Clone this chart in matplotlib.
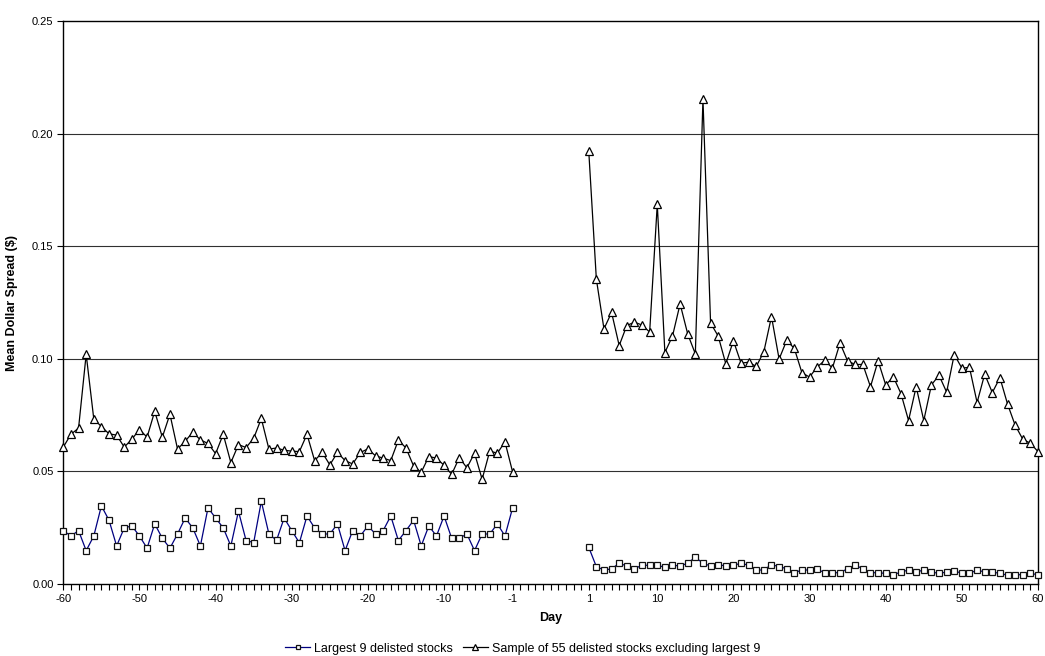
import numpy as np
import matplotlib
matplotlib.use("Agg")
import matplotlib.pyplot as plt
from matplotlib.lines import Line2D

plt.rcParams['font.family'] = ['Liberation Sans', 'DejaVu Sans']

# event days (no day 0)
days_pre = list(range(-60, 0))
days_post = list(range(1, 61))

# largest 9 delisted stocks
large_pre = [0.0237, 0.0213, 0.0237, 0.0148, 0.0213, 0.0347, 0.0283, 0.0169, 0.0249, 0.0258,
             0.0213, 0.0159, 0.0267, 0.0203, 0.0159, 0.0222, 0.0293, 0.0249, 0.0169, 0.0338,
             0.0293, 0.0249, 0.0169, 0.0323, 0.0193, 0.0184, 0.0367, 0.0222, 0.0194, 0.0293,
             0.0237, 0.0183, 0.0302, 0.0249, 0.0222, 0.0222, 0.0267, 0.0148, 0.0237, 0.0213,
             0.0258, 0.0222, 0.0237, 0.0302, 0.0193, 0.0237, 0.0283, 0.0169, 0.0258, 0.0213,
             0.0302, 0.0203, 0.0203, 0.0222, 0.0148, 0.0222, 0.0222, 0.0267, 0.0213, 0.0338]
large_post = [0.0163, 0.0077, 0.0062, 0.0067, 0.0092, 0.0080, 0.0068, 0.0083, 0.0083, 0.0083,
              0.0074, 0.0083, 0.0080, 0.0092, 0.0119, 0.0092, 0.0080, 0.0086, 0.0080, 0.0083,
              0.0092, 0.0083, 0.0062, 0.0062, 0.0086, 0.0077, 0.0068, 0.0050, 0.0062, 0.0062,
              0.0065, 0.0050, 0.0050, 0.0050, 0.0068, 0.0083, 0.0068, 0.0050, 0.0050, 0.0047,
              0.0041, 0.0053, 0.0062, 0.0053, 0.0062, 0.0053, 0.0047, 0.0053, 0.0059, 0.0047,
              0.0047, 0.0062, 0.0053, 0.0053, 0.0047, 0.0039, 0.0041, 0.0041, 0.0047, 0.0041]

# sample of 55 delisted stocks excluding largest 9
sample_pre = [0.0608, 0.0665, 0.0692, 0.1020, 0.0733, 0.0699, 0.0667, 0.0661, 0.0608, 0.0643,
              0.0686, 0.0652, 0.0767, 0.0652, 0.0754, 0.0599, 0.0634, 0.0674, 0.0640, 0.0624,
              0.0579, 0.0665, 0.0539, 0.0619, 0.0606, 0.0647, 0.0735, 0.0599, 0.0604, 0.0594,
              0.0590, 0.0588, 0.0665, 0.0548, 0.0584, 0.0529, 0.0584, 0.0548, 0.0533, 0.0584,
              0.0600, 0.0569, 0.0559, 0.0548, 0.0639, 0.0604, 0.0524, 0.0496, 0.0566, 0.0559,
              0.0527, 0.0487, 0.0561, 0.0516, 0.0581, 0.0465, 0.0590, 0.0581, 0.0631, 0.0498]
sample_post = [0.1924, 0.1354, 0.1133, 0.1206, 0.1059, 0.1148, 0.1163, 0.1150, 0.1119, 0.1686,
               0.1028, 0.1101, 0.1244, 0.1110, 0.1022, 0.2154, 0.1159, 0.1101, 0.0978, 0.1080,
               0.0981, 0.0985, 0.0966, 0.1032, 0.1188, 0.0999, 0.1082, 0.1046, 0.0938, 0.0919,
               0.0964, 0.0993, 0.0959, 0.1070, 0.0990, 0.0975, 0.0975, 0.0876, 0.0991, 0.0884,
               0.0920, 0.0846, 0.0726, 0.0876, 0.0726, 0.0884, 0.0927, 0.0852, 0.1019, 0.0959,
               0.0962, 0.0806, 0.0932, 0.0850, 0.0916, 0.0799, 0.0705, 0.0643, 0.0625, 0.0588]

label_days = [-60, -50, -40, -30, -20, -10, -1, 1, 10, 20, 30, 40, 50, 60]
GAP = 9  # empty categories between day -1 and day 1


def day_pos(d):
    # category position on the axis, with a blank stretch around day 0
    return d + 60 if d < 0 else d + 59 + GAP


fig = plt.figure(figsize=(10.45, 6.56), dpi=100)
ax = fig.add_axes([0.0606, 0.1098, 0.9327, 0.858])

x_pre = [day_pos(d) for d in days_pre]
x_post = [day_pos(d) for d in days_post]

sq = dict(color='#000080', lw=0.9, marker='s', markersize=4.3, markerfacecolor='white',
          markeredgecolor='#111111', markeredgewidth=0.9)
tri = dict(color='black', lw=0.9, marker='^', markersize=5.4, markerfacecolor='white',
           markeredgecolor='black', markeredgewidth=0.9)

ax.plot(x_pre, large_pre, **sq, zorder=3, clip_on=False)
ax.plot(x_post, large_post, **sq, zorder=3, clip_on=False)
ax.plot(x_pre, sample_pre, **tri, zorder=3, clip_on=False)
ax.plot(x_post, sample_post, **tri, zorder=3, clip_on=False)

n_pos = day_pos(60)
ax.set_xlim(0, n_pos)
ax.set_ylim(0, 0.25)

ax.set_xticks(range(0, n_pos + 1), minor=True)
ax.set_xticks([day_pos(d) for d in label_days])
ax.set_xticklabels([str(d) for d in label_days])
ax.tick_params(axis='x', which='both', direction='out', length=4, width=0.8, labelsize=8, pad=3)

yt = [0.0, 0.05, 0.10, 0.15, 0.20, 0.25]
ax.set_yticks(yt)
ax.set_yticklabels([f"{v:.2f}" for v in yt])
ax.tick_params(axis='y', direction='out', length=4, width=0.8, labelsize=8, pad=3)

for v in yt[1:-1]:
    ax.axhline(v, color='#303030', lw=0.8, zorder=1)

for s in ax.spines.values():
    s.set_linewidth(1.0)
    s.set_color('black')

ax.set_xlabel('Day', fontsize=9, fontweight='bold', labelpad=6)
ax.set_ylabel('Mean Dollar Spread ($)', fontsize=9, fontweight='bold', labelpad=10)

handles = [Line2D([], [], **sq), Line2D([], [], **tri)]
fig.legend(handles, ['Largest 9 delisted stocks', 'Sample of 55 delisted stocks excluding largest 9'],
           loc='lower center', bbox_to_anchor=(0.5, -0.015), ncol=2, frameon=False, fontsize=9,
           handlelength=2.0, handletextpad=0.3, columnspacing=0.8, markerscale=0.8)

fig.savefig('out.png', dpi=100)
